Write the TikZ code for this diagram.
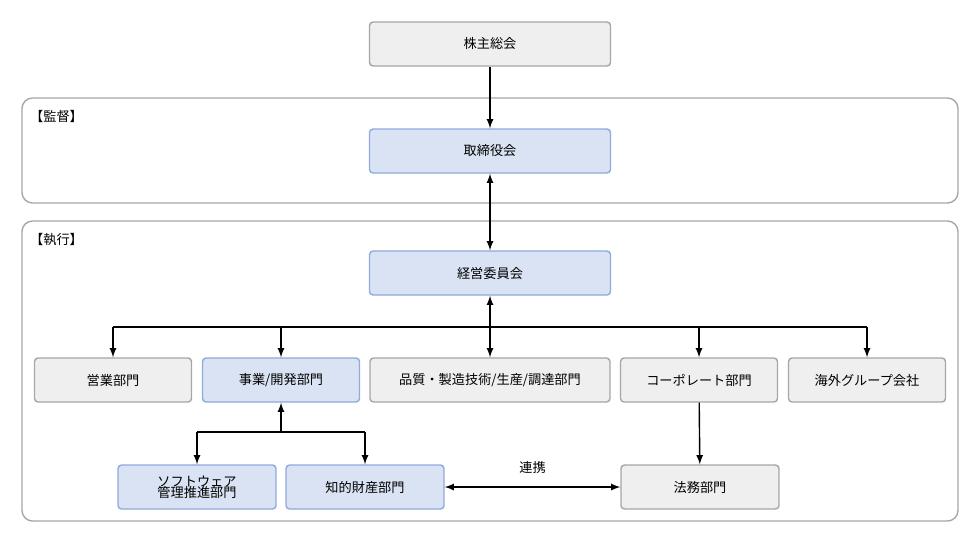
\documentclass[tikz,border=0pt]{standalone}
\usepackage{fontspec}
\setmainfont{Noto Sans CJK JP}
\usetikzlibrary{positioning}
\definecolor{boxgray}{HTML}{EFEFEF}
\definecolor{linegray}{HTML}{A6A6A6}
\definecolor{boxblue}{HTML}{DAE3F3}
\definecolor{lineblue}{HTML}{8FAADC}
\tikzset{
  unit/.style={draw=linegray,fill=boxgray,rounded corners=2pt,line width=0.8pt,
    minimum height=0.88cm,align=center,font=\fontsize{7.5}{8.5}\selectfont},
  bunit/.style={unit,draw=lineblue,fill=boxblue},
  frame/.style={draw=linegray,rounded corners=6pt,line width=0.8pt},
  link/.style={-latex,line width=0.8pt},
}
\begin{document}
\begin{tikzpicture}[x=0.02cm,y=-0.02cm]
  \useasboundingbox (0,0) rectangle (980,542);
  \draw[frame] (22,98) rectangle (958,203);
  \draw[frame] (22,221) rectangle (958,521);
  \node[anchor=north west,font=\fontsize{7.5}{8.5}\selectfont] (supv) at (24,104) {【監督】};
  \node[anchor=north west,font=\fontsize{7.5}{8.5}\selectfont] (exec) at (24,227) {【執行】};
  % top
  \node[unit,minimum width=4.82cm] (agm) at (490,44) {株主総会};
  \node[bunit,minimum width=4.82cm] (board) at (490,151) {取締役会};
  \node[bunit,minimum width=4.82cm] (mgmt) at (490,273) {経営委員会};
  % departments
  \node[unit,minimum width=3.14cm] (sales) at (113,380) {営業部門};
  \node[bunit,minimum width=3.14cm] (biz) at (281,380) {事業/開発部門};
  \node[unit,minimum width=4.8cm] (qual) at (490,380) {品質・製造技術/生産/調達部門};
  \node[unit,minimum width=3.14cm] (corp) at (699,380) {コーポレート部門};
  \node[unit,minimum width=3.14cm] (ovs) at (867,380) {海外グループ会社};
  % lower row
  \node[bunit,minimum width=3.16cm] (soft) at (197,487) {ソフトウェア\\[-2pt]管理推進部門};
  \node[bunit,minimum width=3.16cm] (ip) at (365,487) {知的財産部門};
  \node[unit,minimum width=3.16cm] (legal) at (700,487) {法務部門};
  \coordinate (hub) at (490,327);
  \coordinate (sub) at (281,432);
  % connectors
  \draw[link] (agm) -- (board);
  \draw[link,latex-latex] (board) -- (mgmt);
  \draw[link,latex-latex] (mgmt) -- (qual);
  \draw[line width=0.8pt] (sales.north |- hub) -- (ovs.north |- hub);
  \foreach \d in {sales,biz,corp,ovs}
    \draw[link] (\d.north |- hub) -- (\d);
  \draw[link] (sub) -- (biz);
  \draw[line width=0.8pt] (soft.north |- sub) -- (ip.north |- sub);
  \draw[link] (soft.north |- sub) -- (soft);
  \draw[link] (ip.north |- sub) -- (ip);
  \draw[link] (corp) -- (legal);
  \draw[link,latex-latex] (ip) -- node[above=4pt,font=\fontsize{7.5}{8.5}\selectfont] {連携} (legal);
\end{tikzpicture}
\end{document}
